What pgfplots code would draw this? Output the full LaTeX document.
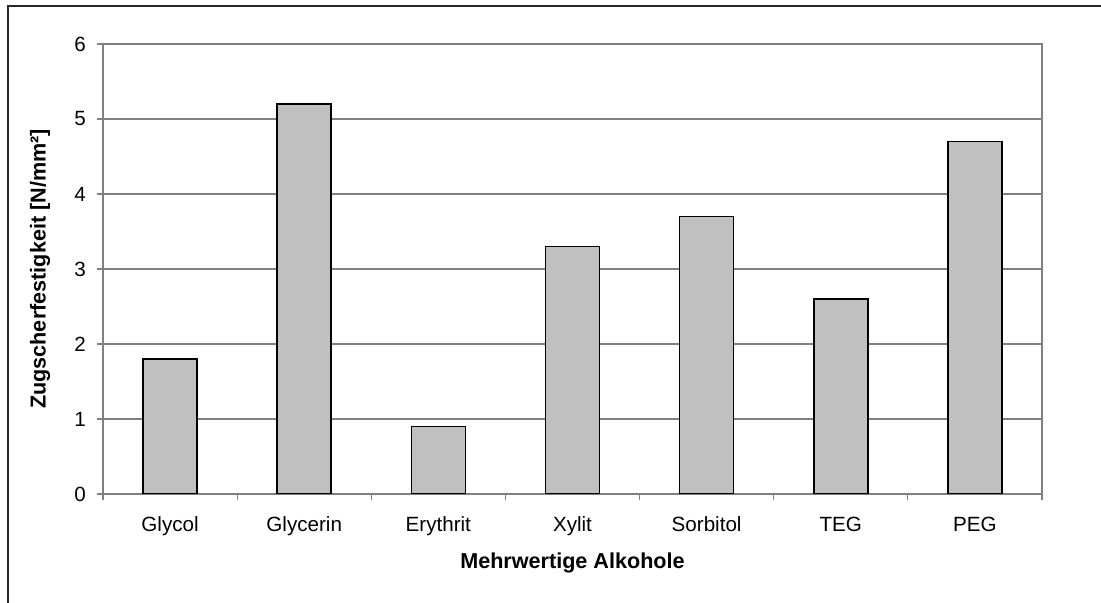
\documentclass[border=0pt]{standalone}
\usepackage{pgfplots}
\pgfplotsset{compat=1.18}
\usepackage{fontspec}
\setmainfont{Liberation Sans}
\definecolor{barfill}{HTML}{C0C0C0}
\definecolor{axgray}{HTML}{808080}
\begin{document}
\fontsize{10}{12}\selectfont
\begin{tikzpicture}
\useasboundingbox (0,0) rectangle (550.5pt,301.5pt);
\draw[color=black!85, line width=0.7pt] (4pt,-20pt) rectangle (580pt,298.5pt);
\begin{axis}[
  at={(51.5pt,54.5pt)}, anchor=south west,
  scale only axis, width=469.5pt, height=225pt,
  xmin=-0.5, xmax=6.5, ymin=0, ymax=6,
  ytick={0,1,...,6},
  xtick={0,...,6},
  xticklabels={Glycol,Glycerin,Erythrit,Xylit,Sorbitol,TEG,PEG},
  major x tick style={draw=none},
  minor xtick={-0.5,0.5,...,6.5},
  minor tick length=3pt,
  major tick length=3pt,
  tick align=outside,
  x tick style={axgray, line width=0.6pt},
  y tick style={axgray, line width=0.6pt},
  xtick pos=bottom, ytick pos=left,
  axis line style={axgray, line width=0.7pt},
  ymajorgrids, grid style={axgray, line width=0.6pt},
  /pgf/number format/assume math mode=true,
  tick label style={font=\fontsize{10.3}{12}\selectfont, text=black},
  xticklabel style={anchor=base, yshift=-15.8pt},
  yticklabel style={anchor=east, xshift=-2pt},
  xlabel={\textbf{Mehrwertige Alkohole}},
  ylabel={\textbf{Zugscherfestigkeit [N/mm²]}},
  xlabel style={at={(axis description cs:0.5,-0.1533)}, anchor=center, font=\fontsize{10.8}{12}\selectfont},
  ylabel style={at={(axis description cs:-0.0671,0.5)}, anchor=center, rotate=0, font=\fontsize{10.8}{12}\selectfont},
]
\addplot[ybar, bar width=27pt, fill=barfill, draw=black, line width=0.8pt] coordinates {
  (0,1.8) (1,5.2) (2,0.9) (3,3.3) (4,3.7) (5,2.6) (6,4.7)
};
\end{axis}
\end{tikzpicture}
\end{document}
